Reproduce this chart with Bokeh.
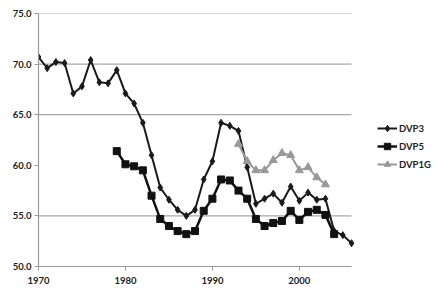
from bokeh.plotting import figure
from bokeh.models import FixedTicker, Legend, LegendItem, Range1d, CustomJSTickFormatter
from bokeh.embed import file_html
from bokeh.resources import INLINE

years_dvp3 = list(range(1970, 2007))
dvp3 = [70.7, 69.6, 70.2, 70.1, 67.1, 67.8, 70.4, 68.2, 68.1, 69.4,
        67.1, 66.1, 64.2, 61.0, 57.8, 56.6, 55.6, 55.0, 55.6, 58.6,
        60.4, 64.2, 63.9, 63.4, 59.8, 56.2, 56.7, 57.2, 56.3, 57.9,
        56.5, 57.3, 56.6, 56.7, 53.5, 53.1, 52.3]

years_dvp5 = list(range(1979, 2005))
dvp5 = [61.4, 60.1, 59.9, 59.5, 57.0, 54.7, 54.0, 53.5, 53.2, 53.5,
        55.5, 56.7, 58.6, 58.5, 57.5, 56.7, 54.7, 54.0, 54.3, 54.5,
        55.5, 54.6, 55.4, 55.6, 55.1, 53.2]

years_dvp1g = list(range(1993, 2004))
dvp1g = [62.1, 60.4, 59.5, 59.5, 60.5, 61.2, 61.0, 59.5, 59.8, 58.8, 58.1]

series_names = ["DVP3", "DVP5", "DVP1G"]
x_start, x_end = 1970, 2006
x_ticks = [1970, 1980, 1990, 2000]
y_ticks = [50, 55, 60, 65, 70, 75]
grid_levels = [55, 65, 70, 75]

FONT = "Lato"
TXT = "#222222"

# frame runs to the right edge so the legend (drawn inside the frame) is not clipped;
# the data area 1970-2006 occupies the left part, as in the reference
p = figure(width=438, height=296, output_backend="svg", toolbar_location=None,
           x_range=Range1d(1970, 2016), y_range=Range1d(50, 75),
           min_border_left=38, min_border_right=0, min_border_top=13, min_border_bottom=30)
p.outline_line_color = None
p.background_fill_color = "white"
p.border_fill_color = "white"

p.xgrid.visible = False
p.ygrid.visible = False
p.segment(x0=[x_start] * len(grid_levels), x1=[x_end] * len(grid_levels),
          y0=grid_levels, y1=grid_levels, line_color="#a8a8a8", line_width=1.2)

for ax in (p.xaxis[0], p.yaxis[0]):
    ax.axis_line_color = "#999999"
    ax.axis_line_width = 1.2
    ax.major_tick_line_color = "#999999"
    ax.minor_tick_line_color = None
    ax.major_tick_in = 0
    ax.major_tick_out = 4
    ax.major_label_text_font = FONT
    ax.major_label_text_font_size = "9.5px"
    ax.major_label_text_color = TXT
    ax.major_label_text_font_style = "bold"

p.xaxis.ticker = FixedTicker(ticks=x_ticks)
p.xaxis.bounds = (x_start, x_end)
p.xaxis.major_label_standoff = 6
p.yaxis.ticker = FixedTicker(ticks=y_ticks)
p.yaxis.major_label_standoff = 3
p.yaxis.formatter = CustomJSTickFormatter(code="return tick.toFixed(1);")

l1 = p.line(years_dvp3, dvp3, line_color="#1a1a1a", line_width=2)
m1 = p.scatter(years_dvp3, dvp3, marker="diamond", size=7, fill_color="#1a1a1a", line_color="#1a1a1a")
l2 = p.line(years_dvp5, dvp5, line_color="#111111", line_width=2.5)
m2 = p.scatter(years_dvp5, dvp5, marker="square", size=7, fill_color="#111111", line_color="#111111")
l3 = p.line(years_dvp1g, dvp1g, line_color="#999999", line_width=2)
m3 = p.scatter(years_dvp1g, dvp1g, marker="triangle", size=8, fill_color="#999999", line_color="#999999")

legend = Legend(items=[
    LegendItem(label=series_names[0], renderers=[l1, m1]),
    LegendItem(label=series_names[1], renderers=[l2, m2]),
    LegendItem(label=series_names[2], renderers=[l3, m3]),
], location=(339, 94), padding=0, margin=0, spacing=2,
    glyph_width=20, glyph_height=16, label_height=16, label_standoff=2,
    label_text_font=FONT, label_text_font_size="9.5px", label_text_color=TXT,
    label_text_font_style="bold",
    border_line_color=None, background_fill_alpha=0)
p.add_layout(legend)

open("out.html", "w").write(file_html(p, INLINE))
